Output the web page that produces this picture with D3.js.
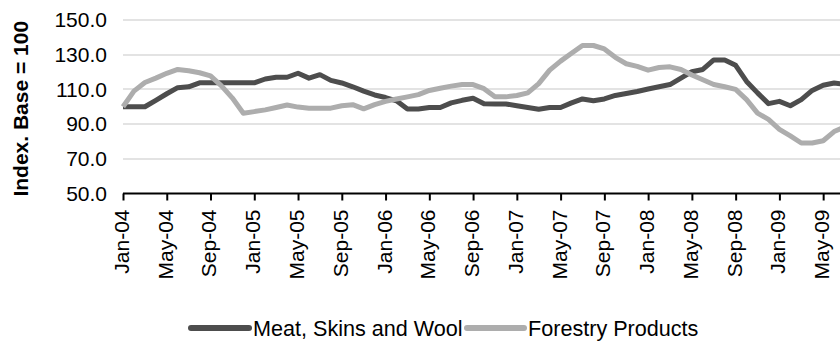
<!DOCTYPE html>
<html>
<head>
<meta charset="utf-8">
<script src="https://cdn.jsdelivr.net/npm/d3@7"></script>
<style>
  html, body { margin: 0; padding: 0; background: #ffffff; }
  svg { display: block; font-family: "Liberation Sans", Arial, sans-serif; }
</style>
</head>
<body>
<svg id="chart" width="840" height="341"></svg>
<script>
// Monthly index series, base = 100 at Jan-04
const months = [
  "Jan-04","Feb-04","Mar-04","Apr-04","May-04","Jun-04","Jul-04","Aug-04","Sep-04","Oct-04","Nov-04","Dec-04",
  "Jan-05","Feb-05","Mar-05","Apr-05","May-05","Jun-05","Jul-05","Aug-05","Sep-05","Oct-05","Nov-05","Dec-05",
  "Jan-06","Feb-06","Mar-06","Apr-06","May-06","Jun-06","Jul-06","Aug-06","Sep-06","Oct-06","Nov-06","Dec-06",
  "Jan-07","Feb-07","Mar-07","Apr-07","May-07","Jun-07","Jul-07","Aug-07","Sep-07","Oct-07","Nov-07","Dec-07",
  "Jan-08","Feb-08","Mar-08","Apr-08","May-08","Jun-08","Jul-08","Aug-08","Sep-08","Oct-08","Nov-08","Dec-08",
  "Jan-09","Feb-09","Mar-09","Apr-09","May-09","Jun-09","Jul-09"
];

const meatSkinsWool = [
  100, 100, 100, 103.7, 107.5, 111, 111.5, 113.8, 113.8, 113.8, 113.8, 113.8,
  113.8, 116, 117, 117, 119.3, 116.5, 118.5, 115.2, 113.7, 111.5, 109, 106.8,
  105.3, 103.4, 98.7, 98.7, 99.6, 99.6, 102.2, 103.7, 104.9, 101.7, 101.6, 101.6,
  100.6, 99.6, 98.6, 99.6, 99.6, 102.2, 104.5, 103.5, 104.5, 106.5, 107.6, 108.8,
  110.2, 111.5, 112.8, 116.5, 120.2, 121.5, 127, 127, 123.9, 114.6, 108, 101.8,
  103.1, 100.6, 104.1, 109.4, 112.4, 113.7, 112.8
];

const forestryProducts = [
  100, 109, 114, 116.5, 119.3, 121.5, 120.7, 119.6, 117.8, 112, 105, 96.3,
  97.2, 98.2, 99.6, 101, 99.8, 99.2, 99.2, 99.2, 100.6, 101.2, 98.8, 101.2,
  103.1, 104.5, 105.7, 107, 109.4, 110.7, 111.9, 112.8, 112.8, 110.4, 105.7, 105.7,
  106.5, 108, 113.3, 121.1, 126.3, 130.8, 135.3, 135.3, 133.3, 128.5, 124.8, 123.3,
  121.1, 122.6, 123, 121.5, 118.3, 115.6, 112.8, 111.5, 110, 104.1, 96.3, 92.7,
  87, 83.2, 79.1, 79.1, 80.4, 85.7, 88.5
];

const xTickLabels = [
  "Jan-04","May-04","Sep-04","Jan-05","May-05","Sep-05","Jan-06","May-06","Sep-06",
  "Jan-07","May-07","Sep-07","Jan-08","May-08","Sep-08","Jan-09","May-09"
];
const yTicks = [50, 70, 90, 110, 130, 150];

const seriesNames = ["Meat, Skins and Wool", "Forestry Products"];
const seriesColors = ["#4d4d4d", "#adadad"];
const seriesValues = [meatSkinsWool, forestryProducts];

const svg = d3.select("#chart");
const fontSize = 21;

const plotLeft = 123;
const monthStep = 10.94;

const x = d3.scalePoint()
  .domain(months)
  .range([plotLeft, plotLeft + monthStep * (months.length - 1)]);

const y = d3.scaleLinear()
  .domain([50, 150])
  .range([193.5, 20]);

// Horizontal gridlines
svg.append("g")
  .selectAll("line")
  .data(yTicks.filter(d => d !== 50))
  .join("line")
  .attr("x1", plotLeft)
  .attr("x2", 900)
  .attr("y1", d => Math.round(y(d)))
  .attr("y2", d => Math.round(y(d)))
  .attr("stroke", "#e3e3e3")
  .attr("stroke-width", 2);

// Y axis labels (no axis line)
svg.append("g")
  .selectAll("text")
  .data(yTicks)
  .join("text")
  .attr("x", 107)
  .attr("y", d => y(d))
  .attr("dy", "0.35em")
  .attr("text-anchor", "end")
  .attr("font-size", fontSize)
  .attr("fill", "#000")
  .text(d3.format(".1f"));

// Y axis title
svg.append("text")
  .attr("transform", `translate(28,${y(100) + 2}) rotate(-90)`)
  .attr("text-anchor", "middle")
  .attr("font-size", fontSize)
  .attr("font-weight", "bold")
  .attr("fill", "#000")
  .text("Index. Base = 100");

// Series lines
const line = d3.line()
  .x((d, i) => x(months[i]))
  .y(d => y(d));

svg.append("g")
  .selectAll("path")
  .data(seriesValues)
  .join("path")
  .attr("d", d => line(d))
  .attr("fill", "none")
  .attr("stroke", (d, i) => seriesColors[i])
  .attr("stroke-width", 5)
  .attr("stroke-linejoin", "round");

// X axis
const xAxis = d3.axisBottom(x)
  .tickValues(xTickLabels)
  .tickSize(7)
  .tickSizeOuter(0)
  .tickPadding(9);

const gx = svg.append("g")
  .attr("transform", `translate(0,${y(50)})`)
  .call(xAxis);

gx.select(".domain")
  .attr("d", `M${plotLeft},0H900`)
  .attr("stroke", "#000")
  .attr("stroke-width", 2);
gx.selectAll(".tick line")
  .attr("stroke", "#000")
  .attr("stroke-width", 2);
gx.selectAll(".tick text")
  .attr("font-size", fontSize)
  .attr("font-family", "Liberation Sans, Arial, sans-serif")
  .attr("fill", "#000")
  .attr("text-anchor", "end")
  .attr("transform", "rotate(-90)")
  .attr("x", -16)
  .attr("y", 0)
  .attr("dy", "0.26em");

// Legend
const legendItems = [
  { name: seriesNames[0], color: seriesColors[0], x0: 191, x1: 249, tx: 253 },
  { name: seriesNames[1], color: seriesColors[1], x0: 467, x1: 524, tx: 528 }
];
const legend = svg.append("g");
legend.selectAll("line")
  .data(legendItems)
  .join("line")
  .attr("x1", d => d.x0)
  .attr("x2", d => d.x1)
  .attr("y1", 328)
  .attr("y2", 328)
  .attr("stroke", d => d.color)
  .attr("stroke-width", 6)
  .attr("stroke-linecap", "round");
legend.selectAll("text")
  .data(legendItems)
  .join("text")
  .attr("x", d => d.tx)
  .attr("y", 328)
  .attr("dy", "0.35em")
  .attr("font-size", 21.6)
  .attr("fill", "#000")
  .text(d => d.name);
</script>
</body>
</html>
